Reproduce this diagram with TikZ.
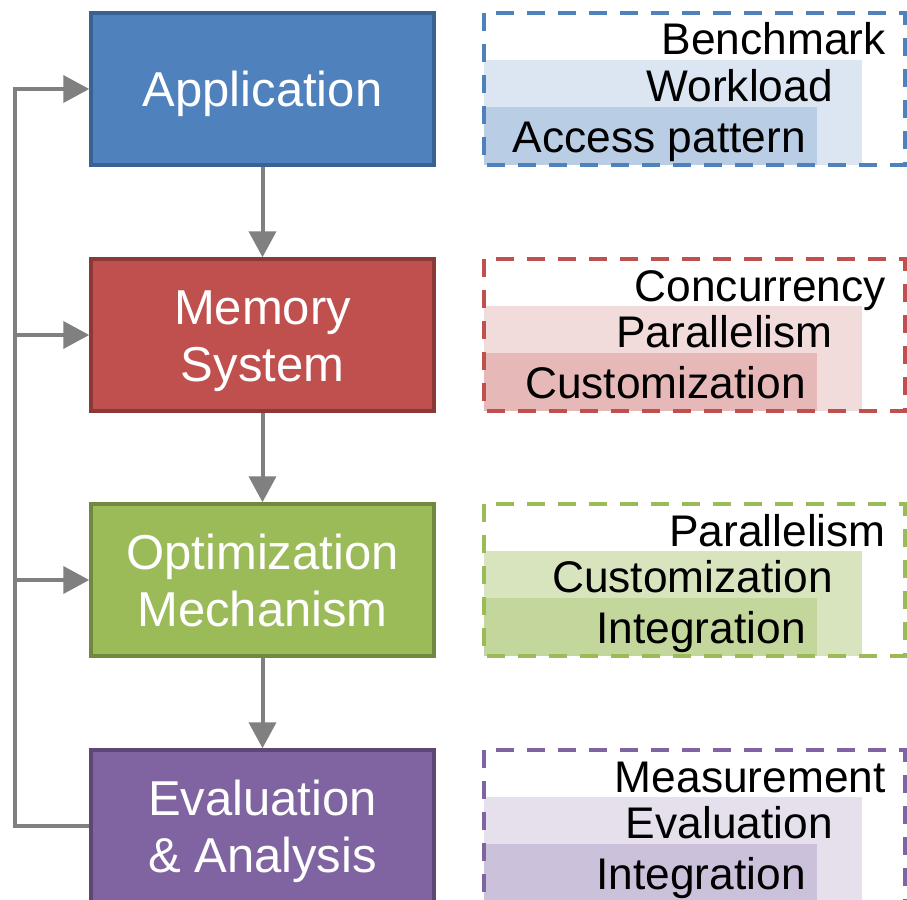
\documentclass[tikz,border=0pt]{standalone}
\usepackage{fontspec}
\setmainfont{Liberation Sans}
\usetikzlibrary{arrows.meta}

% Office-style palette
\definecolor{blueMain}{HTML}{4F81BD}
\definecolor{blueEdge}{HTML}{3A6194}
\definecolor{blueLight}{HTML}{DCE6F2}
\definecolor{blueMid}{HTML}{B9CDE5}
\definecolor{redMain}{HTML}{C0504D}
\definecolor{redEdge}{HTML}{8C3836}
\definecolor{redLight}{HTML}{F2DCDB}
\definecolor{redMid}{HTML}{E6B9B8}
\definecolor{greenMain}{HTML}{9BBB59}
\definecolor{greenEdge}{HTML}{71893F}
\definecolor{greenLight}{HTML}{D7E4BD}
\definecolor{greenMid}{HTML}{C3D69B}
\definecolor{purpleMain}{HTML}{8064A2}
\definecolor{purpleEdge}{HTML}{5C4776}
\definecolor{purpleLight}{HTML}{E6E0EC}
\definecolor{purpleMid}{HTML}{CCC1DA}
\definecolor{arrowgray}{HTML}{808080}

\tikzset{
  stage/.style={rectangle, minimum width=343pt, minimum height=152pt,
    line width=3.5pt, text=white, align=center, inner sep=0pt,
    text height=45pt, text depth=10pt,
    font=\fontsize{49}{57}\selectfont},
  twoline/.style={text height=102pt},
  flow/.style={draw=arrowgray, line width=4pt,
    -{Triangle[width=27pt,length=26pt]}},
  facet/.style={dash pattern=on 18pt off 13pt, line width=4pt},
  tag/.style={anchor=base east, inner sep=0pt, text=black,
    font=\fontsize{44.3}{50}\selectfont},
}

\begin{document}
\begin{tikzpicture}[x=1pt,y=-1pt]
\useasboundingbox (0,0) rectangle (907,899);
\clip (0,0) rectangle (907,899);

% facet panels on the right
\foreach \i/\y/\c/\ta/\tb/\tc in {
    1/13/blue/Benchmark/Workload/Access pattern,
    2/259/red/Concurrency/Parallelism/Customization,
    3/504/green/Parallelism/Customization/Integration,
    4/750/purple/Measurement/Evaluation/Integration}{
  \fill[\c Light] (484,\y+47) rectangle (862,\y+152);
  \fill[\c Mid] (484,\y+94) rectangle (817,\y+152);
  \draw[facet, draw=\c Main] (484,\y) rectangle (905,\y+152);
  \node[tag] (ta\i) at (886,\y+42) {\ta};
  \node[tag] (tb\i) at (833,\y+88) {\tb};
  \node[tag] (tc\i) at (806,\y+139) {\tc};
}

% process stages
\node[stage, fill=blueMain, draw=blueEdge] (app) at (262.5,89) {Application};
\node[stage, twoline, fill=redMain, draw=redEdge] (mem) at (262.5,335) {Memory\\System};
\node[stage, twoline, fill=greenMain, draw=greenEdge] (opt) at (262.5,580) {Optimization\\Mechanism};
\node[stage, twoline, fill=purpleMain, draw=purpleEdge] (eva) at (262.5,826) {Evaluation\\\& Analysis};

% forward flow
\draw[flow] (app) -- (mem);
\draw[flow] (mem) -- (opt);
\draw[flow] (opt) -- (eva);

% feedback loop
\coordinate (fbm) at (15,335);
\coordinate (fbo) at (15,580);
\draw[flow] (eva.west) -| (fbm) |- (app.west);
\draw[flow] (fbm) -- (mem.west);
\draw[flow] (fbo) -- (opt.west);
\end{tikzpicture}
\end{document}
